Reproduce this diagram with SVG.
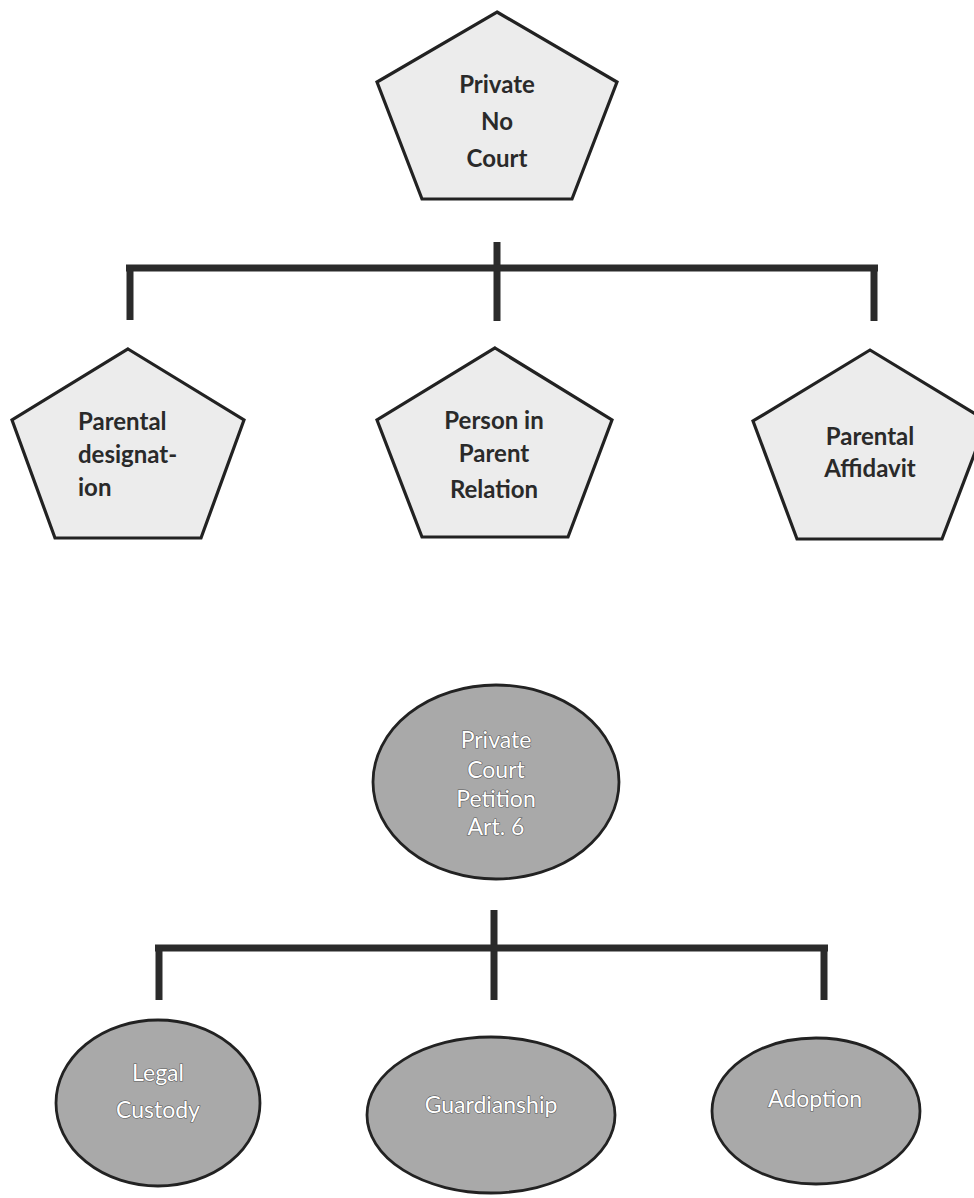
<svg xmlns="http://www.w3.org/2000/svg" width="974" height="1198" viewBox="0 0 974 1198">
<style>
.pent{fill:#ececec;stroke:#222;stroke-width:3.2;stroke-linejoin:miter}
.ell{fill:#a9a9a9;stroke:#222;stroke-width:2.8}
.pt{font-family:Lato,"Liberation Sans",sans-serif;font-weight:bold;font-size:24px;fill:#2a2a2a}
.et{font-family:Lato,"Liberation Sans",sans-serif;font-size:23px;fill:#fff;stroke:#5a5a5a;stroke-width:1.2;paint-order:stroke}
.conn{stroke:#2b2b2b;stroke-width:7;fill:none;stroke-linecap:butt}
</style>
<rect width="974" height="1198" fill="#fff"/>
<g id="connectors">
<line class="conn" x1="497" y1="242" x2="497" y2="321"/>
<line class="conn" x1="126" y1="268" x2="878" y2="268"/>
<line class="conn" x1="130" y1="268" x2="130" y2="320"/>
<line class="conn" x1="874" y1="268" x2="874" y2="321"/>
<line class="conn" x1="494" y1="910" x2="494" y2="1000"/>
<line class="conn" x1="155" y1="948" x2="828" y2="948"/>
<line class="conn" x1="159" y1="948" x2="159" y2="1000"/>
<line class="conn" x1="824" y1="948" x2="824" y2="1000"/>
</g>
<g id="private-no-court">
<polygon class="pent" points="497,12 617,82 572,199 422,199 377,82"/>
<text class="pt" text-anchor="middle" x="497" y="93">Private</text>
<text class="pt" text-anchor="middle" x="497" y="130">No</text>
<text class="pt" text-anchor="middle" x="497" y="167">Court</text>
</g>
<g id="parental-designation">
<polygon class="pent" points="128,349 244,420 201,538 55,538 12,420"/>
<text class="pt" x="78" y="430">Parental</text>
<text class="pt" x="78" y="463">designat-</text>
<text class="pt" x="78" y="496">ion</text>
</g>
<g id="person-in-parent-relation">
<polygon class="pent" points="495,348 612,420 568,537 422,537 377,420"/>
<text class="pt" text-anchor="middle" x="494" y="429">Person in</text>
<text class="pt" text-anchor="middle" x="494" y="462">Parent</text>
<text class="pt" text-anchor="middle" x="494" y="498">Relation</text>
</g>
<g id="parental-affidavit">
<polygon class="pent" points="870,350 987,421 942,539 797,539 753,421"/>
<text class="pt" text-anchor="middle" x="870" y="445">Parental</text>
<text class="pt" text-anchor="middle" x="870" y="477">Affidavit</text>
</g>
<g id="private-court-petition">
<ellipse class="ell" cx="496" cy="782" rx="123" ry="97"/>
<text class="et" text-anchor="middle" x="496" y="748">Private</text>
<text class="et" text-anchor="middle" x="496" y="778">Court</text>
<text class="et" text-anchor="middle" x="496" y="807">Petition</text>
<text class="et" text-anchor="middle" x="496" y="835">Art. 6</text>
</g>
<g id="legal-custody">
<ellipse class="ell" cx="158" cy="1103" rx="102" ry="83"/>
<text class="et" text-anchor="middle" x="158" y="1081">Legal</text>
<text class="et" text-anchor="middle" x="158" y="1118">Custody</text>
</g>
<g id="guardianship">
<ellipse class="ell" cx="491" cy="1115" rx="124" ry="78"/>
<text class="et" text-anchor="middle" x="491" y="1113">Guardianship</text>
</g>
<g id="adoption">
<ellipse class="ell" cx="816" cy="1111" rx="104" ry="73"/>
<text class="et" text-anchor="middle" x="815" y="1107">Adoption</text>
</g>
</svg>
